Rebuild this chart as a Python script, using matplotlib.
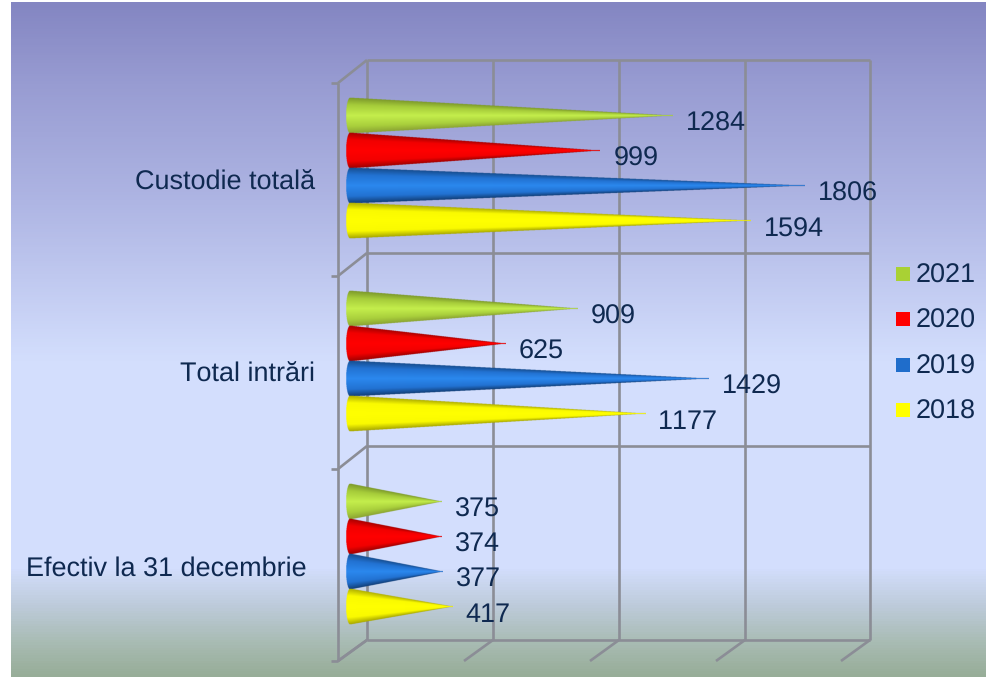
import numpy as np
import matplotlib
matplotlib.use("Agg")
import matplotlib.pyplot as plt
from matplotlib.colors import LinearSegmentedColormap
from matplotlib.patches import Rectangle

categories = ["Custodie totală", "Total intrări", "Efectiv la 31 decembrie"]
years = ["2021", "2020", "2019", "2018"]
v2021 = [1284, 909, 375]
v2020 = [999, 625, 374]
v2019 = [1806, 1429, 377]
v2018 = [1594, 1177, 417]
series = [v2021, v2020, v2019, v2018]
legend_colors = ["#a9d134", "#ff0000", "#1f6dcb", "#ffff00"]
shades = [
    ["#7d9a2b", "#a6cc3a", "#c4ee4c", "#a9cf3c", "#8ba433"],
    ["#a80000", "#f20000", "#ff0000", "#f20000", "#a00000"],
    ["#174e90", "#2272d2", "#2b88ee", "#2272d2", "#123f78"],
    ["#b0b000", "#fafa00", "#ffff00", "#fafa00", "#a8a800"],
]
shade_pos = [0.0, 0.2, 0.5, 0.8, 1.0]
TEXT = "#0f2950"
GRID = "#8b8d96"
W, H = 986, 677
plt.rcParams["font.family"] = ["Liberation Sans", "DejaVu Sans"]
plt.rcParams["text.hinting"] = "no_hinting"
plt.rcParams["text.hinting_factor"] = 1
plt.rcParams["text.kerning_factor"] = 6
fig = plt.figure(figsize=(W / 100, H / 100), dpi=100, facecolor="white")


def px_axes(x0, y0, x1, y1, **kw):
    a = fig.add_axes([x0 / W, 1 - y1 / H, (x1 - x0) / W, (y1 - y0) / H], **kw)
    a.axis("off")
    a.patch.set_alpha(0)
    return a


# background gradient
bg = px_axes(11, 2, 986, 677)
stops = [(0.0, "#8486c2"), (0.12, "#989cd2"), (0.3, "#afb6e4"), (0.53, "#d3defd"),
         (0.84, "#d3defd"), (0.90, "#bccad8"), (0.95, "#a9bcb4"), (1.0, "#97ad98")]
bgmap = LinearSegmentedColormap.from_list("bg", stops)
bg.imshow(np.linspace(0, 1, 675)[:, None], cmap=bgmap, aspect="auto", vmin=0, vmax=1)

# 3D frame in pixel space
frame = px_axes(0, 0, W, H)
frame.set_xlim(0, W)
frame.set_ylim(H, 0)
wall_x = [367, 493, 619, 745, 870]
wall_y = [60, 253, 446, 640]
lw = 1.9
for x in wall_x:
    frame.plot([x, x], [60, 640], color=GRID, lw=lw, solid_capstyle="butt")
    frame.plot([x, x - 29], [640, 661], color=GRID, lw=lw, solid_capstyle="butt")
for y in wall_y:
    yf = y + 23 if y < 640 else 661
    frame.plot([367, 870], [y, y], color=GRID, lw=lw, solid_capstyle="butt")
    frame.plot([367, 338], [y, yf], color=GRID, lw=lw, solid_capstyle="butt")
    frame.plot([331, 338], [yf, yf], color=GRID, lw=lw, solid_capstyle="butt")
frame.plot([338, 338], [83, 661], color=GRID, lw=lw, solid_capstyle="butt")

# cones: value axes (x in data units, y = category index)
ax = px_axes(347, 72, 870, 651)
xmax = 523 / 0.2536
ymax_px = 193
ax.set_xlim(0, xmax)
ax.set_ylim(2.5, -0.5)
bar_step = 35.3 / ymax_px
half = 17.5 / ymax_px
e = 4 / 0.2536
SS = 4
tip_min = 0.035
for b, vals in enumerate(series):
    cmap = LinearSegmentedColormap.from_list(years[b], list(zip(shade_pos, shades[b])))
    for c, v in enumerate(vals):
        yc = c + (b - 1.5) * bar_step
        left = -e * 0.15
        nx = int(v * 0.2536 * SS) + 8
        ny = int(35 * SS) + 8
        xs = np.linspace(left, v, nx)
        ts = np.linspace(-1.03, 1.03, ny)
        Xg, Tg = np.meshgrid(xs, ts)
        # fraction along the cone from the base plane to the tip
        frac = np.clip((Xg - e) / (v - e), 0, 1)
        width = np.maximum(1 - frac, tip_min)
        local = Tg / width
        base_edge = left + e * (1 - np.sqrt(np.clip(1 - Tg ** 2, 0, 1)))
        inside = (np.abs(local) <= 1) & (Xg >= base_edge) & (Xg <= v)
        rgba = cmap(np.clip((local + 1) / 2, 0, 1))
        rgba[..., 3] = inside.astype(float)
        extent = (left, v, yc + 1.03 * half, yc - 1.03 * half)
        ax.imshow(rgba, extent=extent, origin="upper", aspect="auto", interpolation="hanning",
                  zorder=3, clip_on=False)
        ax.annotate(str(v), (v, yc), xytext=(9.3, -5.7), textcoords="offset points", fontsize=19.3,
                    color=TEXT, va="center", ha="left", zorder=5, annotation_clip=False)
ax.set_xlim(0, xmax)
ax.set_ylim(2.5, -0.5)

# category labels
label_right = [315, 315, 307]
label_y = [183, 375, 569]
for name, xr, yl in zip(categories, label_right, label_y):
    frame.text(xr, yl, name, fontsize=19.4, color=TEXT, ha="right", va="center")

# legend
leg_y = [274, 319, 365, 410]
for yr, col, y in zip(years, legend_colors, leg_y):
    frame.add_patch(Rectangle((896, y - 7), 14, 14, color=col, lw=0))
    frame.text(916, y + 2, yr, fontsize=19.5, color=TEXT, ha="left", va="center")

fig.savefig("out.png", dpi=100)
